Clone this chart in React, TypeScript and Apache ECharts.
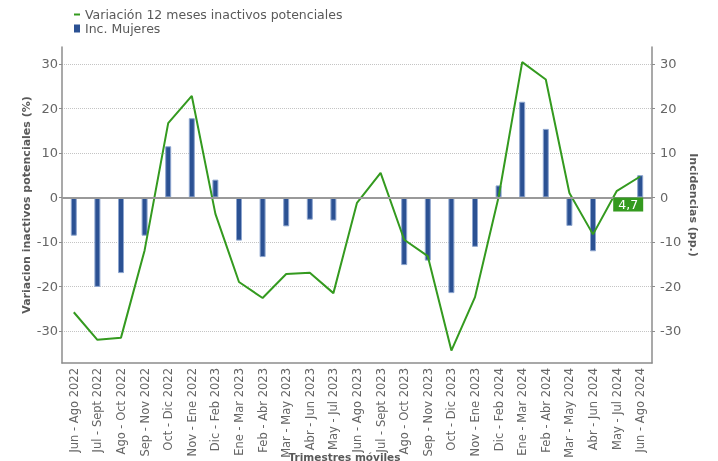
import React, { useEffect, useRef } from "react";
import * as echarts from "echarts";

const categories: string[] = [
  "Jun - Ago 2022", "Jul - Sept 2022", "Ago - Oct 2022", "Sep - Nov 2022",
  "Oct - Dic 2022", "Nov - Ene 2022", "Dic - Feb 2023", "Ene - Mar 2023",
  "Feb - Abr 2023", "Mar - May 2023", "Abr - Jun 2023", "May - Jul 2023",
  "Jun - Ago 2023", "Jul - Sept 2023", "Ago - Oct 2023", "Sep - Nov 2023",
  "Oct - Dic 2023", "Nov - Ene 2023", "Dic - Feb 2024", "Ene - Mar 2024",
  "Feb - Abr 2024", "Mar - May 2024", "Abr - Jun 2024", "May - Jul 2024",
  "Jun - Ago 2024",
];

const lineName = "Variación 12 meses inactivos potenciales";
const barName = "Inc. Mujeres";

const lineValues: number[] = [
  -25.8, -32.0, -31.5, -11.9, 16.7, 22.8, -3.7, -19.0, -22.6, -17.2, -16.9, -21.5,
  -1.2, 5.5, -9.5, -13.2, -34.4, -22.4, 0.1, 30.4, 26.5, 1.0, -8.3, 1.4, 4.7,
];

const barValues: (number | null)[] = [
  -8.6, -20.1, -17.0, -8.6, 11.5, 17.8, 4.0, -9.7, -13.4, -6.5, -5.0, -5.2,
  null, -0.3, -15.2, -14.2, -21.5, -11.1, 2.7, 21.5, 15.4, -6.4, -12.1, null, 5.0,
];

const yTicks: number[] = [-30, -20, -10, 0, 10, 20, 30];
const yMin = -37.2;
const yMax = 33.8;

const GREEN = "#349a1f";
const BLUE = "#2b5193";
const FONT = "DejaVu Sans";

export default function App() {
  const ref = useRef<HTMLDivElement>(null);

  useEffect(() => {
    if (!ref.current) return;
    const chart = echarts.init(ref.current, undefined, { renderer: "svg" });
    const lastIdx = lineValues.length - 1;
    const lastVal = lineValues[lastIdx];

    const yAxisCommon = {
      type: "value" as const,
      min: yMin,
      max: yMax,
      axisLine: { show: true, lineStyle: { color: "#8c8c8c", width: 1.5 } },
      axisTick: { show: true, length: 3, lineStyle: { color: "#8c8c8c" }, customValues: yTicks },
      nameLocation: "middle" as const,
      nameMoveOverlap: false,
      nameTextStyle: { fontFamily: FONT, fontSize: 11, fontWeight: "bold" as const, color: "#595959" },
    };

    chart.setOption({
      animation: false,
      textStyle: { fontFamily: FONT },
      grid: { left: 62, right: 66, top: 47, bottom: 98, containLabel: false, outerBoundsMode: "none" },
      legend: {
        orient: "vertical",
        left: 69,
        top: 3,
        itemWidth: 6,
        itemHeight: 8,
        itemGap: 1,
        textStyle: { fontFamily: FONT, fontSize: 12.5, color: "#595959" },
        data: [
          {
            name: lineName,
            icon: "path://M0,0L0,0M0,3L6,3L6,5L0,5ZM0,8L0,8",
            itemStyle: { color: GREEN, borderWidth: 0 },
          },
          { name: barName, icon: "rect", itemStyle: { color: BLUE, borderWidth: 0 } },
        ],
      },
      xAxis: {
        type: "category",
        data: categories,
        boundaryGap: true,
        axisLine: { onZero: false, lineStyle: { color: "#8c8c8c", width: 1.5 } },
        axisTick: { alignWithLabel: true, length: 4, lineStyle: { color: "#8c8c8c" } },
        axisLabel: { rotate: 90, fontSize: 11.5, color: "#666666", margin: 5, interval: 0, fontFamily: FONT },
        name: "Trimestres móviles",
        nameLocation: "middle",
        nameGap: 88,
        nameMoveOverlap: false,
        nameTextStyle: {
          fontFamily: FONT, fontSize: 10.5, lineHeight: 11, fontWeight: "bold", color: "#595959",
          padding: [0, 25, 0, 0],
        },
      },
      yAxis: [
        {
          ...yAxisCommon,
          position: "left",
          name: "Variacion inactivos potenciales (%)",
          nameGap: 30,
          axisLabel: { fontSize: 13, color: "#666666", margin: 4, fontFamily: FONT, customValues: yTicks },
          splitLine: { show: true, lineStyle: { color: "#c4c4c4", type: "dotted", width: 1 } },
        },
        {
          ...yAxisCommon,
          position: "right",
          name: "Incidencias (pp.)",
          nameGap: 36,
          nameRotate: -90,
          axisLabel: { fontSize: 13, color: "#666666", margin: 8, fontFamily: FONT, customValues: yTicks },
          splitLine: { show: false },
        },
      ],
      series: [
        {
          name: lineName,
          type: "line",
          yAxisIndex: 0,
          data: lineValues,
          symbol: "none",
          z: 3,
          lineStyle: { color: GREEN, width: 2 },
          itemStyle: { color: GREEN },
          markPoint: {
            symbol: "rect",
            symbolSize: [30, 14],
            symbolOffset: [-12, 28],
            itemStyle: { color: GREEN },
            label: {
              show: true,
              color: "#ffffff",
              fontSize: 12.5,
              fontFamily: FONT,
              formatter: () => String(lastVal).replace(".", ","),
            },
            data: [{ coord: [lastIdx, lastVal], value: lastVal }],
          },
        },
        {
          name: barName,
          type: "bar",
          yAxisIndex: 1,
          data: barValues,
          barWidth: 6,
          itemStyle: { color: BLUE, borderColor: "#8ea6cf", borderWidth: 1 },
          markLine: {
            silent: true,
            symbol: "none",
            label: { show: false },
            lineStyle: { color: "#999999", width: 2, type: "solid" },
            data: [{ yAxis: 0 }],
          },
        },
      ],
    });

    return () => chart.dispose();
  }, []);

  return (
    <div
      ref={ref}
      style={{ position: "fixed", left: 0, top: 0, width: 718, height: 461 }}
    />
  );
}
